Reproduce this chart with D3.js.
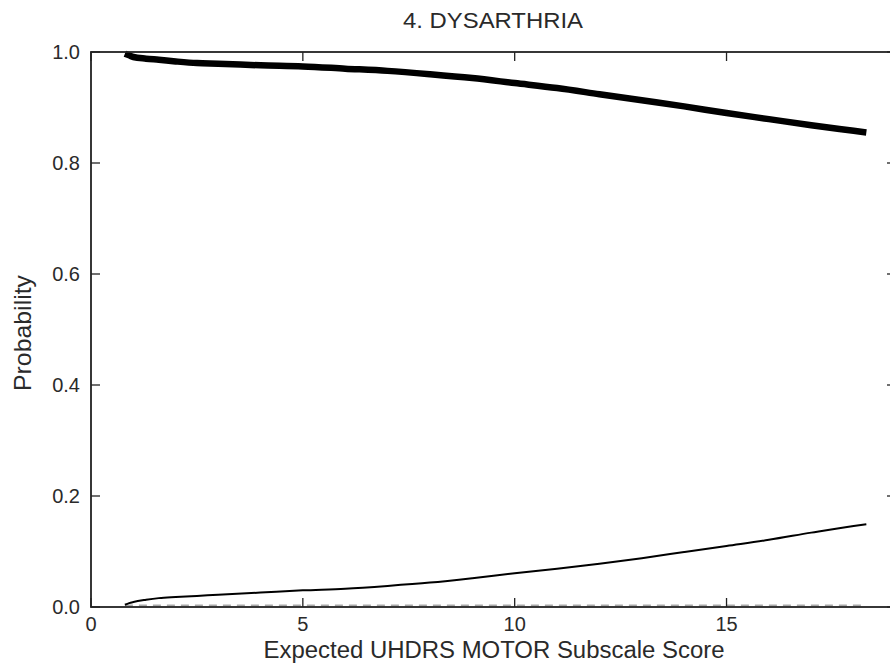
<!DOCTYPE html>
<html>
<head>
<meta charset="utf-8">
<script src="https://cdn.jsdelivr.net/npm/d3@7"></script>
<style>
  html, body { margin: 0; padding: 0; background: #fff; }
  svg { display: block; font-family: "Liberation Sans", Arial, sans-serif; }
</style>
</head>
<body>
<svg id="chart" width="890" height="670"></svg>
<script>
// Expected motor score at which each curve is evaluated
const scores = [0.8, 0.9, 1.0, 1.3, 1.6, 2, 2.5, 3, 4, 5, 6, 7, 8, 9, 10, 11, 12, 13, 14, 15, 16, 17, 18, 18.3];

// Probability of each dysarthria rating across the score range
const probNormal = [0.997, 0.994, 0.991, 0.988, 0.986, 0.983, 0.980, 0.979, 0.976, 0.974, 0.970, 0.966, 0.960, 0.953, 0.944, 0.935, 0.924, 0.913, 0.902, 0.890, 0.879, 0.868, 0.858, 0.855];
const probMild   = [0.004, 0.007, 0.009, 0.013, 0.016, 0.018, 0.020, 0.022, 0.026, 0.030, 0.033, 0.038, 0.044, 0.052, 0.061, 0.069, 0.078, 0.088, 0.099, 0.110, 0.121, 0.134, 0.146, 0.149];
const probSevere = [0.003, 0.003, 0.003, 0.003, 0.003, 0.003, 0.003, 0.003, 0.003, 0.003, 0.003, 0.003, 0.003, 0.003, 0.003, 0.003, 0.003, 0.003, 0.003, 0.003, 0.003, 0.003, 0.003, 0.003];

const xTicks = [0, 5, 10, 15];
const yTicks = [0.0, 0.2, 0.4, 0.6, 0.8, 1.0];

const titleText = "4. DYSARTHRIA";
const xLabel = "Expected UHDRS MOTOR Subscale Score";
const yLabel = "Probability";

const svg = d3.select("#chart");
const plotLeft = 91, plotRight = 896, plotTop = 52, plotBottom = 607;

const x = d3.scaleLinear().domain([0, 19]).range([plotLeft, plotRight]);
const y = d3.scaleLinear().domain([0, 1]).range([plotBottom, plotTop]);

const tickLen = 9;
const axisColor = "#222";
const textColor = "#2a2a2a";

// Curves
const line = vals => d3.line()
  .x((d, i) => x(scores[i]))
  .y(d => y(d))
  .curve(d3.curveMonotoneX)(vals);

svg.append("path").attr("d", line(probSevere))
  .attr("fill", "none").attr("stroke", "#aaa").attr("stroke-width", 1.6)
  .attr("stroke-dasharray", "8,6");
svg.append("path").attr("d", line(probMild))
  .attr("fill", "none").attr("stroke", "#000").attr("stroke-width", 2);
svg.append("path").attr("d", line(probNormal))
  .attr("fill", "none").attr("stroke", "#000").attr("stroke-width", 6.5)
  .attr("stroke-linejoin", "round");

// Inward ticks on all four sides
const axes = svg.append("g").attr("stroke", axisColor).attr("stroke-width", 1.3);
xTicks.forEach(t => {
  axes.append("line").attr("x1", x(t)).attr("x2", x(t)).attr("y1", plotBottom).attr("y2", plotBottom - tickLen);
  axes.append("line").attr("x1", x(t)).attr("x2", x(t)).attr("y1", plotTop).attr("y2", plotTop + tickLen);
});
yTicks.forEach(t => {
  axes.append("line").attr("x1", plotLeft).attr("x2", plotLeft + tickLen).attr("y1", y(t)).attr("y2", y(t));
  axes.append("line").attr("x1", plotRight).attr("x2", plotRight - tickLen).attr("y1", y(t)).attr("y2", y(t));
});

// Frame
svg.append("rect")
  .attr("x", plotLeft).attr("y", plotTop)
  .attr("width", plotRight - plotLeft).attr("height", plotBottom - plotTop)
  .attr("fill", "none").attr("stroke", axisColor).attr("stroke-width", 1.8);

// Tick labels
svg.append("g").selectAll("text").data(xTicks).join("text")
  .attr("x", d => x(d)).attr("y", 631)
  .attr("text-anchor", "middle").attr("font-size", 20).attr("fill", textColor)
  .text(d => d3.format("d")(d));

svg.append("g").selectAll("text").data(yTicks).join("text")
  .attr("x", 80).attr("y", d => y(d)).attr("dy", "0.36em")
  .attr("text-anchor", "end").attr("font-size", 20).attr("fill", textColor)
  .text(d => d3.format(".1f")(d));

// Title and axis labels
svg.append("text").attr("x", 493).attr("y", 28)
  .attr("text-anchor", "middle").attr("font-size", 22).attr("fill", textColor)
  .attr("textLength", 180).attr("lengthAdjust", "spacingAndGlyphs")
  .text(titleText);

svg.append("text").attr("x", 494).attr("y", 658)
  .attr("text-anchor", "middle").attr("font-size", 23.5).attr("fill", textColor)
  .attr("textLength", 461).attr("lengthAdjust", "spacingAndGlyphs")
  .text(xLabel);

svg.append("text")
  .attr("transform", "translate(31,333) rotate(-90)")
  .attr("text-anchor", "middle").attr("font-size", 24).attr("fill", textColor)
  .attr("textLength", 116).attr("lengthAdjust", "spacingAndGlyphs")
  .text(yLabel);
</script>
</body>
</html>
